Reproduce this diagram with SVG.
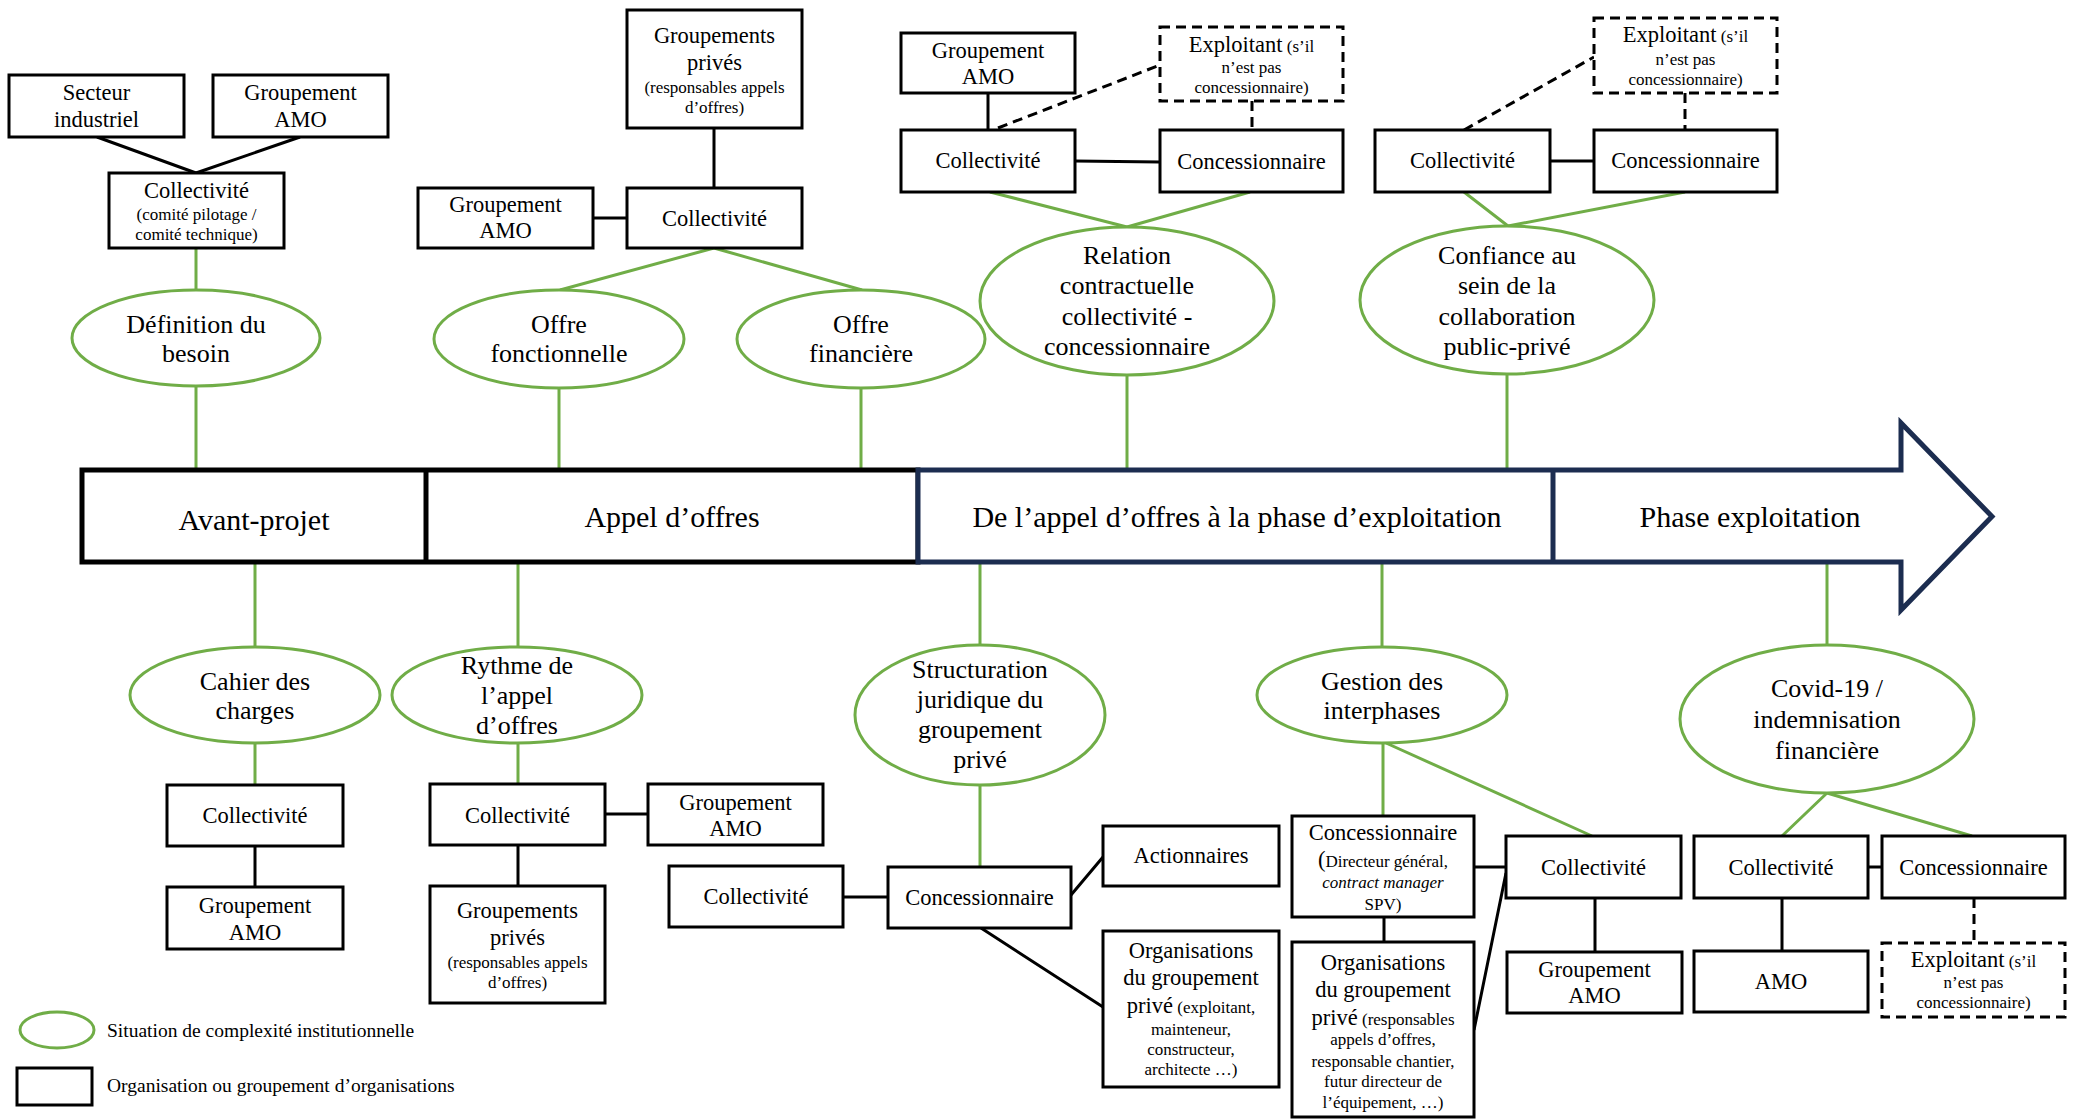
<svg xmlns="http://www.w3.org/2000/svg" width="2080" height="1119" viewBox="0 0 2080 1119">
<style>
.box{fill:#fff;stroke:#000;stroke-width:3}
.dbox{fill:#fff;stroke:#000;stroke-width:3;stroke-dasharray:10 6}
.ell{fill:#fff;stroke:#70AD47;stroke-width:3}
.gl{stroke:#70AD47;stroke-width:3;fill:none}
.bl{stroke:#000;stroke-width:3;fill:none}
.dl{stroke:#000;stroke-width:3;fill:none;stroke-dasharray:10 6}
text{font-family:"Liberation Serif","Times New Roman",serif;fill:#000;text-anchor:middle}
.t{font-size:22.5px}
.s{font-size:17px}
.e{font-size:26px}
.b{font-size:30px}
.lg{font-size:19.5px;text-anchor:start}
</style>
<rect width="2080" height="1119" fill="#fff"/>
<g id="connectors">
<path class="bl" d="M97 137L196 173M300 137L196 173M714 128V188M593 218H627M988 93V130M1075 161L1160 162M1550 161H1594M255 846V887M605 814H648M518 845V886M843 897H888M1071 895L1103 857M981 928L1103 1007M1384 917V942M1474 867H1506M1474 1030L1506 873M1595 898V952M1868 867H1882M1782 898V951"/>
<path class="dl" d="M998 128L1160 65M1252 101V130M1464 130L1594 57M1685 93V130M1974 898V943"/>
<path class="gl" d="M196 248V290M196 386V470M714 248L560 290M714 248L862 290M559 388V470M861 388V470M990 192L1127 227M1250 192L1127 227M1127 375V470M1464 192L1508 226M1685 192L1508 226M1507 374V470M255 562V647M518 562V647M255 743V785M518 743V784M980 562V645M980 785V867M1382 562V647M1383 743V816M1386 743L1592 836M1827 562V645M1827 793L1782 836M1827 793L1972 836"/>
</g>
<g id="timeline">
<rect x="82" y="470" width="836" height="92" fill="#fff" stroke="#000" stroke-width="5"/>
<line x1="426" y1="470" x2="426" y2="562" stroke="#000" stroke-width="5"/>
<path d="M918 470H1901V423L1992 516.5L1901 610V562H918Z" fill="#fff" stroke="#1c2d50" stroke-width="5" stroke-linejoin="miter"/>
<line x1="1553" y1="470" x2="1553" y2="562" stroke="#1c2d50" stroke-width="5"/>
<text class="b" x="254" y="530">Avant-projet</text>
<text class="b" x="672" y="527">Appel d’offres</text>
<text class="b" x="1237" y="527">De l’appel d’offres à la phase d’exploitation</text>
<text class="b" x="1750" y="527">Phase exploitation</text>
</g>
<g id="n-secteur"><rect class="box" x="9" y="75" width="175" height="62"/><text class="t" x="96.5" y="100">Secteur</text><text class="t" x="96.5" y="127">industriel</text></g>
<g id="n-amo1"><rect class="box" x="213" y="75" width="175" height="62"/><text class="t" x="300.5" y="100">Groupement</text><text class="t" x="300.5" y="127">AMO</text></g>
<g id="n-coll1"><rect class="box" x="109" y="173" width="175" height="75"/><text class="t" x="196.5" y="198">Collectivité</text><text class="s" x="196.5" y="220">(comité pilotage /</text><text class="s" x="196.5" y="240">comité technique)</text></g>
<g id="e-definition"><ellipse class="ell" cx="196" cy="338" rx="124" ry="48"/><text class="e" x="196" y="333">Définition du</text><text class="e" x="196" y="362">besoin</text></g>
<g id="n-gp1"><rect class="box" x="627" y="10" width="175" height="118"/><text class="t" x="714.5" y="43">Groupements</text><text class="t" x="714.5" y="70">privés</text><text class="s" x="714.5" y="93">(responsables appels</text><text class="s" x="714.5" y="113">d’offres)</text></g>
<g id="n-amo2"><rect class="box" x="418" y="188" width="175" height="60"/><text class="t" x="505.5" y="212">Groupement</text><text class="t" x="505.5" y="238">AMO</text></g>
<g id="n-coll2"><rect class="box" x="627" y="188" width="175" height="60"/><text class="t" x="714.5" y="226">Collectivité</text></g>
<g id="e-offre-fonc"><ellipse class="ell" cx="559" cy="339" rx="125" ry="49"/><text class="e" x="559" y="333">Offre</text><text class="e" x="559" y="362">fonctionnelle</text></g>
<g id="e-offre-fin"><ellipse class="ell" cx="861" cy="339" rx="124" ry="49"/><text class="e" x="861" y="333">Offre</text><text class="e" x="861" y="362">financière</text></g>
<g id="n-amo3"><rect class="box" x="901" y="33" width="174" height="60"/><text class="t" x="988" y="58">Groupement</text><text class="t" x="988" y="84">AMO</text></g>
<g id="n-coll3"><rect class="box" x="901" y="130" width="174" height="62"/><text class="t" x="988" y="168">Collectivité</text></g>
<g id="n-expl1"><rect class="dbox" x="1160" y="27" width="183" height="74"/><text x="1251.5" y="52"><tspan class="t">Exploitant</tspan><tspan class="s"> (s’il</tspan></text><text class="s" x="1251.5" y="73">n’est pas</text><text class="s" x="1251.5" y="93">concessionnaire)</text></g>
<g id="n-conc1"><rect class="box" x="1160" y="130" width="183" height="62"/><text class="t" x="1251.5" y="169">Concessionnaire</text></g>
<g id="e-relation"><ellipse class="ell" cx="1127" cy="301" rx="147" ry="74"/><text class="e" x="1127" y="264">Relation</text><text class="e" x="1127" y="294">contractuelle</text><text class="e" x="1127" y="325">collectivité -</text><text class="e" x="1127" y="355">concessionnaire</text></g>
<g id="n-coll4"><rect class="box" x="1375" y="130" width="175" height="62"/><text class="t" x="1462.5" y="168">Collectivité</text></g>
<g id="n-conc2"><rect class="box" x="1594" y="130" width="183" height="62"/><text class="t" x="1685.5" y="168">Concessionnaire</text></g>
<g id="n-expl2"><rect class="dbox" x="1594" y="18" width="183" height="75"/><text x="1685.5" y="42"><tspan class="t">Exploitant</tspan><tspan class="s"> (s’il</tspan></text><text class="s" x="1685.5" y="65">n’est pas</text><text class="s" x="1685.5" y="85">concessionnaire)</text></g>
<g id="e-confiance"><ellipse class="ell" cx="1507" cy="300" rx="147" ry="74"/><text class="e" x="1507" y="264">Confiance au</text><text class="e" x="1507" y="294">sein de la</text><text class="e" x="1507" y="325">collaboration</text><text class="e" x="1507" y="355">public-privé</text></g>
<g id="e-cahier"><ellipse class="ell" cx="255" cy="695" rx="125" ry="48"/><text class="e" x="255" y="690">Cahier des</text><text class="e" x="255" y="719">charges</text></g>
<g id="n-coll5"><rect class="box" x="167" y="785" width="176" height="61"/><text class="t" x="255" y="823">Collectivité</text></g>
<g id="n-amo4"><rect class="box" x="167" y="887" width="176" height="62"/><text class="t" x="255" y="913">Groupement</text><text class="t" x="255" y="940">AMO</text></g>
<g id="e-rythme"><ellipse class="ell" cx="517" cy="695" rx="125" ry="48"/><text class="e" x="517" y="674">Rythme de</text><text class="e" x="517" y="704">l’appel</text><text class="e" x="517" y="734">d’offres</text></g>
<g id="n-coll6"><rect class="box" x="430" y="784" width="175" height="61"/><text class="t" x="517.5" y="823">Collectivité</text></g>
<g id="n-amo5"><rect class="box" x="648" y="784" width="175" height="61"/><text class="t" x="735.5" y="810">Groupement</text><text class="t" x="735.5" y="836">AMO</text></g>
<g id="n-gp2"><rect class="box" x="430" y="886" width="175" height="117"/><text class="t" x="517.5" y="918">Groupements</text><text class="t" x="517.5" y="945">privés</text><text class="s" x="517.5" y="968">(responsables appels</text><text class="s" x="517.5" y="988">d’offres)</text></g>
<g id="e-structuration"><ellipse class="ell" cx="980" cy="715" rx="125" ry="70"/><text class="e" x="980" y="678">Structuration</text><text class="e" x="980" y="708">juridique du</text><text class="e" x="980" y="738">groupement</text><text class="e" x="980" y="768">privé</text></g>
<g id="n-coll7"><rect class="box" x="669" y="866" width="174" height="61"/><text class="t" x="756" y="904">Collectivité</text></g>
<g id="n-conc3"><rect class="box" x="888" y="867" width="183" height="61"/><text class="t" x="979.5" y="905">Concessionnaire</text></g>
<g id="n-action"><rect class="box" x="1103" y="826" width="176" height="60"/><text class="t" x="1191" y="863">Actionnaires</text></g>
<g id="n-org1"><rect class="box" x="1103" y="931" width="176" height="156"/><text class="t" x="1191" y="958">Organisations</text><text class="t" x="1191" y="985">du groupement</text><text x="1191" y="1013"><tspan class="t">privé</tspan><tspan class="s"> (exploitant,</tspan></text><text class="s" x="1191" y="1035">mainteneur,</text><text class="s" x="1191" y="1055">constructeur,</text><text class="s" x="1191" y="1075">architecte …)</text></g>
<g id="e-gestion"><ellipse class="ell" cx="1382" cy="695" rx="125" ry="48"/><text class="e" x="1382" y="690">Gestion des</text><text class="e" x="1382" y="719">interphases</text></g>
<g id="n-conc4"><rect class="box" x="1292" y="816" width="182" height="101"/><text class="t" x="1383" y="840">Concessionnaire</text><text x="1383" y="867"><tspan class="t">(</tspan><tspan class="s">Directeur général,</tspan></text><text class="s" x="1383" y="888" font-style="italic">contract manager</text><text class="s" x="1383" y="910">SPV)</text></g>
<g id="n-org2"><rect class="box" x="1292" y="942" width="182" height="175"/><text class="t" x="1383" y="970">Organisations</text><text class="t" x="1383" y="997">du groupement</text><text x="1383" y="1025"><tspan class="t">privé</tspan><tspan class="s"> (responsables</tspan></text><text class="s" x="1383" y="1045">appels d’offres,</text><text class="s" x="1383" y="1067">responsable chantier,</text><text class="s" x="1383" y="1087">futur directeur de</text><text class="s" x="1383" y="1108">l’équipement, …)</text></g>
<g id="n-coll8"><rect class="box" x="1506" y="836" width="175" height="62"/><text class="t" x="1593.5" y="875">Collectivité</text></g>
<g id="n-amo6"><rect class="box" x="1507" y="952" width="175" height="61"/><text class="t" x="1594.5" y="977">Groupement</text><text class="t" x="1594.5" y="1003">AMO</text></g>
<g id="e-covid"><ellipse class="ell" cx="1827" cy="719" rx="147" ry="74"/><text class="e" x="1827" y="697">Covid-19 /</text><text class="e" x="1827" y="728">indemnisation</text><text class="e" x="1827" y="759">financière</text></g>
<g id="n-coll9"><rect class="box" x="1694" y="836" width="174" height="62"/><text class="t" x="1781" y="875">Collectivité</text></g>
<g id="n-conc5"><rect class="box" x="1882" y="836" width="183" height="62"/><text class="t" x="1973.5" y="875">Concessionnaire</text></g>
<g id="n-amo7"><rect class="box" x="1694" y="951" width="174" height="61"/><text class="t" x="1781" y="989">AMO</text></g>
<g id="n-expl3"><rect class="dbox" x="1882" y="943" width="183" height="74"/><text x="1973.5" y="967"><tspan class="t">Exploitant</tspan><tspan class="s"> (s’il</tspan></text><text class="s" x="1973.5" y="988">n’est pas</text><text class="s" x="1973.5" y="1008">concessionnaire)</text></g>
<g id="legend">
<ellipse class="ell" cx="57" cy="1030" rx="37" ry="18"/>
<text class="lg" x="107" y="1037">Situation de complexité institutionnelle</text>
<rect class="box" x="17" y="1068" width="75" height="37"/>
<text class="lg" x="107" y="1092">Organisation ou groupement d’organisations</text>
</g>
</svg>
